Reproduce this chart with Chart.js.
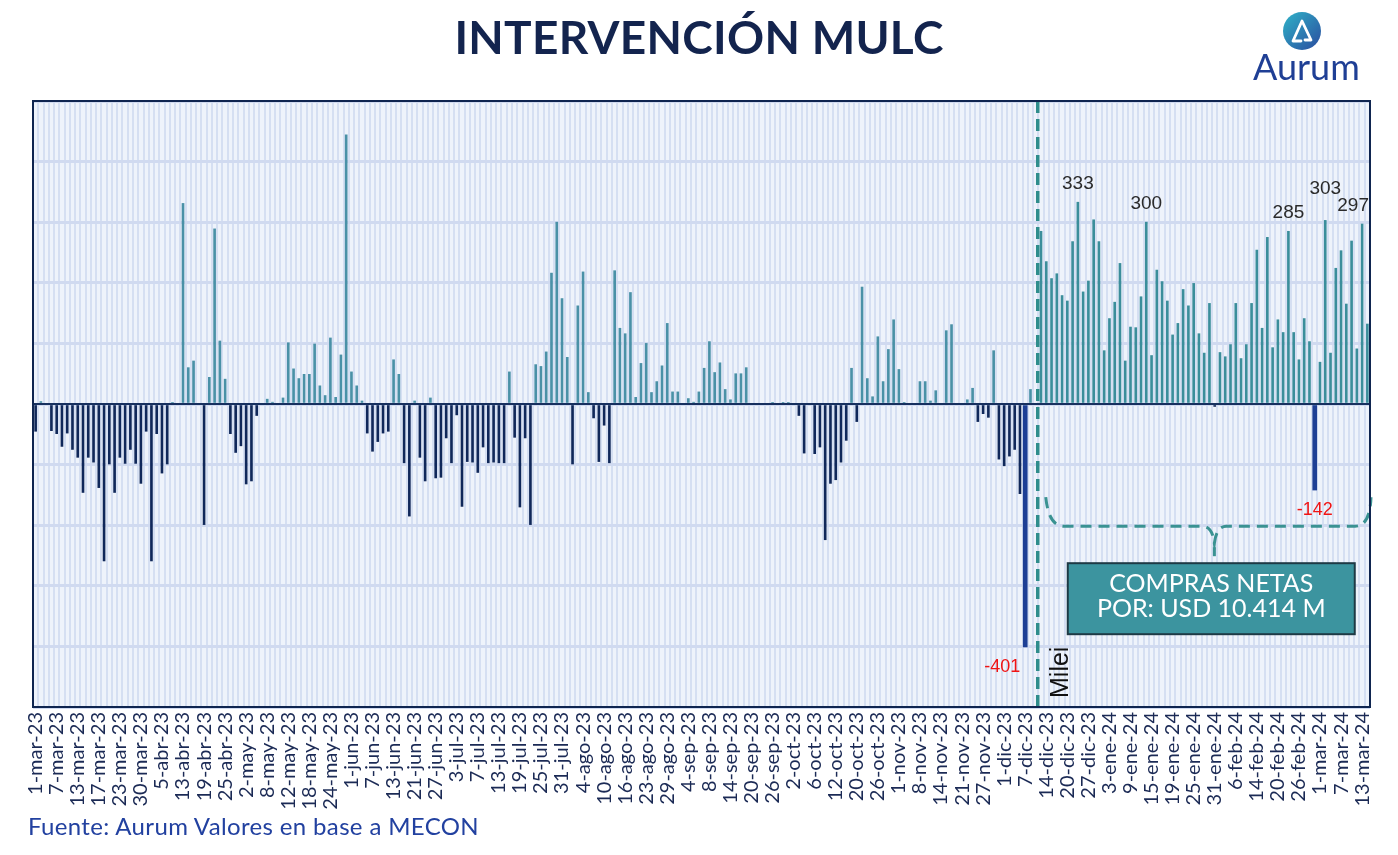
<!DOCTYPE html>
<html>
<head>
<meta charset="utf-8">
<script src="https://cdn.jsdelivr.net/npm/chart.js@4.4.1/dist/chart.umd.min.js"></script>
<style>
html,body{margin:0;padding:0;background:#ffffff;}
#wrap{position:relative;width:1398px;height:855px;overflow:hidden;background:#fff;}
#c{position:absolute;left:0;top:0;}
#title{position:absolute;left:0;top:14px;width:1398px;text-align:center;font-family:Lato,sans-serif;font-weight:700;font-size:46px;line-height:46px;color:#13244e;letter-spacing:0.3px;}
#source{position:absolute;left:28px;top:814px;font-family:Lato,sans-serif;font-size:24px;line-height:24px;color:#2241a0;letter-spacing:0.35px;}
#logoText{position:absolute;left:1253px;top:48px;font-family:Lato,sans-serif;font-size:36px;line-height:36px;color:#1f3f95;}
#logoIcon{position:absolute;left:1283px;top:12px;width:38px;height:38px;}
</style>
</head>
<body>
<div id="wrap">
  <canvas id="c" width="1398" height="855"></canvas>
  <div id="title">INTERVENCIÓN MULC</div>
  <svg id="logoIcon" viewBox="-19 -19 38 38">
    <defs>
      <linearGradient id="lg" x1="0" y1="0" x2="1" y2="1">
        <stop offset="0" stop-color="#2fb3c8"/>
        <stop offset="1" stop-color="#2b4c9f"/>
      </linearGradient>
    </defs>
    <circle cx="0" cy="0" r="19" fill="url(#lg)"/>
    <path d="M -1 10 L -9 10 L 0 -10 L 9 9 L 3 9" fill="none" stroke="#ffffff" stroke-width="2.8" stroke-linejoin="round" stroke-linecap="round"/>
  </svg>
  <div id="logoText">Aurum</div>
  <div id="source">Fuente: Aurum Valores en base a MECON</div>
</div>
<script>
// ---------- DATA ----------
const categories = [
  '1-mar-23','2-mar-23','3-mar-23','6-mar-23','7-mar-23','8-mar-23','9-mar-23','10-mar-23','13-mar-23','14-mar-23','15-mar-23','16-mar-23','17-mar-23','20-mar-23','21-mar-23','22-mar-23','23-mar-23','27-mar-23','28-mar-23','29-mar-23','30-mar-23','31-mar-23',
  '3-abr-23','4-abr-23','5-abr-23','10-abr-23','11-abr-23','12-abr-23','13-abr-23','14-abr-23','17-abr-23','18-abr-23','19-abr-23','20-abr-23','21-abr-23','24-abr-23','25-abr-23','26-abr-23','27-abr-23','28-abr-23',
  '2-may-23','3-may-23','4-may-23','5-may-23','8-may-23','9-may-23','10-may-23','11-may-23','12-may-23','15-may-23','16-may-23','17-may-23','18-may-23','19-may-23','22-may-23','23-may-23','24-may-23','29-may-23','30-may-23','31-may-23',
  '1-jun-23','2-jun-23','5-jun-23','6-jun-23','7-jun-23','8-jun-23','9-jun-23','12-jun-23','13-jun-23','14-jun-23','15-jun-23','16-jun-23','21-jun-23','22-jun-23','23-jun-23','26-jun-23','27-jun-23','28-jun-23','29-jun-23','30-jun-23',
  '3-jul-23','4-jul-23','5-jul-23','6-jul-23','7-jul-23','10-jul-23','11-jul-23','12-jul-23','13-jul-23','14-jul-23','17-jul-23','18-jul-23','19-jul-23','20-jul-23','21-jul-23','24-jul-23','25-jul-23','26-jul-23','27-jul-23','28-jul-23','31-jul-23',
  '1-ago-23','2-ago-23','3-ago-23','4-ago-23','7-ago-23','8-ago-23','9-ago-23','10-ago-23','11-ago-23','14-ago-23','15-ago-23','16-ago-23','17-ago-23','18-ago-23','22-ago-23','23-ago-23','24-ago-23','25-ago-23','28-ago-23','29-ago-23','30-ago-23','31-ago-23',
  '1-sep-23','4-sep-23','5-sep-23','6-sep-23','7-sep-23','8-sep-23','11-sep-23','12-sep-23','13-sep-23','14-sep-23','15-sep-23','18-sep-23','19-sep-23','20-sep-23','21-sep-23','22-sep-23','25-sep-23','26-sep-23','27-sep-23','28-sep-23','29-sep-23',
  '2-oct-23','3-oct-23','4-oct-23','5-oct-23','6-oct-23','9-oct-23','10-oct-23','11-oct-23','12-oct-23','17-oct-23','18-oct-23','19-oct-23','20-oct-23','23-oct-23','24-oct-23','25-oct-23','26-oct-23','27-oct-23','30-oct-23','31-oct-23',
  '1-nov-23','3-nov-23','6-nov-23','7-nov-23','8-nov-23','9-nov-23','10-nov-23','13-nov-23','14-nov-23','15-nov-23','16-nov-23','17-nov-23','21-nov-23','22-nov-23','23-nov-23','24-nov-23','27-nov-23','28-nov-23','29-nov-23','30-nov-23',
  '1-dic-23','4-dic-23','5-dic-23','6-dic-23','7-dic-23','11-dic-23','12-dic-23','13-dic-23','14-dic-23','15-dic-23','18-dic-23','19-dic-23','20-dic-23','21-dic-23','22-dic-23','26-dic-23','27-dic-23','28-dic-23','29-dic-23',
  '2-ene-24','3-ene-24','4-ene-24','5-ene-24','8-ene-24','9-ene-24','10-ene-24','11-ene-24','12-ene-24','15-ene-24','16-ene-24','17-ene-24','18-ene-24','19-ene-24','22-ene-24','23-ene-24','24-ene-24','25-ene-24','26-ene-24','29-ene-24','30-ene-24','31-ene-24',
  '1-feb-24','2-feb-24','5-feb-24','6-feb-24','7-feb-24','8-feb-24','9-feb-24','14-feb-24','15-feb-24','16-feb-24','19-feb-24','20-feb-24','21-feb-24','22-feb-24','23-feb-24','26-feb-24','27-feb-24','28-feb-24','29-feb-24',
  '1-mar-24','4-mar-24','5-mar-24','6-mar-24','7-mar-24','8-mar-24','11-mar-24','12-mar-24','13-mar-24','14-mar-24'
];

// Net BCRA purchases in the MULC, USD millions
const netPurchases = [
  -45,4,0,-44,-49,-70,-48,-75,-88,-146,-88,-96,-138,-259,-99,-146,-88,-98,-75,-98,-131,-45,
  -259,-49,-114,-99,2,0,331,60,71,0,-199,44,289,104,41,-49,-80,-69,
  -132,-127,-19,0,8,3,0,10,101,58,42,49,49,99,30,14,109,11,81,444,
  53,30,5,-48,-78,-62,-48,-45,73,49,-97,-185,5,-88,-127,10,-122,-121,-56,-97,
  -18,-169,-95,-96,-113,-71,-97,-96,-97,-97,53,-55,-170,-56,-199,65,62,86,216,300,174,
  77,-99,162,218,19,-23,-95,-35,-97,220,125,116,184,11,67,100,19,37,63,133,20,20,
  0,9,3,20,59,103,52,68,24,7,50,50,60,0,0,0,0,2,0,2,2,
  0,-19,-81,0,-82,-71,-224,-131,-125,-96,-60,59,-29,193,42,12,111,37,90,139,
  57,2,0,0,37,37,5,22,0,121,131,0,0,7,26,-29,-16,-22,88,-91,
  -102,-86,-75,-148,-401,24,0,285,235,207,215,179,170,268,333,185,203,304,268,
  88,141,168,232,71,127,126,177,300,80,221,202,170,114,133,189,162,199,116,84,166,-4,
  85,78,98,166,75,98,166,254,125,275,93,139,118,285,118,73,141,103,-142,
  69,303,84,224,253,165,269,91,297,132
];

const tickEvery = 4;
const mileiDate = '12-dic-23';
const labeledPositiveDates = ['22-dic-23','12-ene-24','22-feb-24','4-mar-24','13-mar-24'];
const labeledNegativeDates = ['7-dic-23','29-feb-24'];
const yMin = -500, yMax = 500, yStep = 100;
const bracketLevel = -200;
const boxLines = ['COMPRAS NETAS', 'POR: USD 10.414 M'];
const mileiLabel = 'Milei';

// ---------- STYLE ----------
const mileiIdx = categories.indexOf(mileiDate);
const highlightIdx = labeledNegativeDates.map(d => categories.indexOf(d));
const labelNudge = { '4-mar-24': {dx:0, dy:-13}, '13-mar-24': {dx:-9, dy:0}, '7-dic-23': {dx:-23, dy:0} };

const mainData = netPurchases.map((v,i) => highlightIdx.includes(i) ? null : v);
const highlightData = netPurchases.map((v,i) => highlightIdx.includes(i) ? v : null);

const annot = {
  id: 'annot',
  beforeDraw(chart) {
    const {ctx, chartArea: a} = chart;
    ctx.save();
    ctx.fillStyle = '#eef3fb';
    ctx.fillRect(a.left, a.top, a.right - a.left, a.bottom - a.top);
    ctx.restore();
  },
  afterDatasetsDraw(chart) {
    const {ctx, chartArea: a, scales: {x, y}} = chart;
    ctx.save();
    // zero line
    const y0 = y.getPixelForValue(0);
    ctx.strokeStyle = '#17305f';
    ctx.lineWidth = 2;
    ctx.beginPath(); ctx.moveTo(a.left, y0); ctx.lineTo(a.right, y0); ctx.stroke();

    // Milei line
    const xm = x.getPixelForValue(mileiIdx) + 2;
    ctx.strokeStyle = '#2f8d8c';
    ctx.lineWidth = 3.5;
    ctx.setLineDash([12, 6]);
    ctx.beginPath(); ctx.moveTo(xm, a.top); ctx.lineTo(xm, a.bottom); ctx.stroke();

    // bracket
    const yb = y.getPixelForValue(bracketLevel) + 1;
    const xl = xm + 8, xr = a.right + 1;
    const xc = (xl + xr) / 2 + 6;
    const ytop = yb - 29;
    ctx.lineWidth = 3;
    ctx.setLineDash([11, 7]);
    ctx.strokeStyle = '#3a9292';
    ctx.beginPath();
    ctx.moveTo(xl, ytop);
    ctx.quadraticCurveTo(xl + 3, yb, xl + 18, yb);
    ctx.lineTo(xc - 12, yb);
    ctx.quadraticCurveTo(xc - 2, yb, xc, yb + 17);
    ctx.quadraticCurveTo(xc + 2, yb, xc + 12, yb);
    ctx.lineTo(xr - 16, yb);
    ctx.quadraticCurveTo(xr - 1, yb, xr, ytop);
    ctx.stroke();
    ctx.setLineDash([]);
    ctx.beginPath(); ctx.moveTo(xc, yb + 21); ctx.lineTo(xc, yb + 30); ctx.stroke();

    // box
    const bx = xm + 30, by = yb + 37, bw = 287, bh = 71;
    ctx.fillStyle = '#3c949f';
    ctx.fillRect(bx, by, bw, bh);
    ctx.strokeStyle = '#1e3a45';
    ctx.lineWidth = 2;
    ctx.strokeRect(bx, by, bw, bh);
    ctx.fillStyle = '#ffffff';
    ctx.font = '25px Lato';
    ctx.textAlign = 'center';
    ctx.textBaseline = 'alphabetic';
    ctx.fillText(boxLines[0], bx + bw/2, by + 29);
    ctx.fillText(boxLines[1], bx + bw/2, by + 54);

    // Milei label
    ctx.save();
    ctx.translate(xm + 30, a.bottom - 9);
    ctx.rotate(-Math.PI/2);
    ctx.fillStyle = '#111111';
    ctx.font = '25px "Liberation Sans"';
    ctx.textAlign = 'left';
    ctx.fillText(mileiLabel, 0, 0);
    ctx.restore();

    // value labels
    ctx.font = '19px "Liberation Sans"';
    labeledPositiveDates.forEach(d => {
      const i = categories.indexOf(d);
      const v = netPurchases[i];
      const n = labelNudge[d] || {dx:0, dy:0};
      ctx.fillStyle = '#2b2b2b';
      ctx.textAlign = 'center';
      ctx.textBaseline = 'alphabetic';
      ctx.fillText(String(v), x.getPixelForValue(i) + n.dx, y.getPixelForValue(v) - 13 + n.dy);
    });
    ctx.font = '18px "Liberation Sans"';
    labeledNegativeDates.forEach(d => {
      const i = categories.indexOf(d);
      const v = netPurchases[i];
      const n = labelNudge[d] || {dx:0, dy:0};
      ctx.fillStyle = '#f01414';
      ctx.textAlign = 'center';
      ctx.textBaseline = 'top';
      ctx.fillText(String(v), x.getPixelForValue(i) + n.dx, y.getPixelForValue(v) + 11 + n.dy);
    });

    // frame
    ctx.strokeStyle = '#0f2550';
    ctx.lineWidth = 2;
    ctx.strokeRect(a.left, a.top, a.right - a.left, a.bottom - a.top);
    ctx.restore();
  }
};

new Chart(document.getElementById('c'), {
  type: 'bar',
  data: {
    labels: categories,
    datasets: [
      {
        data: mainData, grouped: false, barThickness: 2,
        backgroundColor: c => {
          const v = c.raw;
          if (v < 0) return '#10285a';
          return c.dataIndex < mileiIdx ? '#4a91a7' : '#3b8e9b';
        }
      },
      { data: highlightData, grouped: false, barThickness: 4, backgroundColor: '#1d3f95' }
    ]
  },
  options: {
    responsive: false,
    animation: false,
    devicePixelRatio: 1,
    layout: { padding: { left: 33, right: 28, top: 101, bottom: 0 } },
    plugins: { legend: { display: false }, tooltip: { enabled: false } },
    scales: {
      x: {
        grid: { color: '#d5dff2', lineWidth: 2, drawTicks: false, offset: true },
        border: { display: false },
        ticks: {
          autoSkip: false, maxRotation: 90, minRotation: 90, padding: 5,
          font: { family: 'Lato', size: 20 }, color: '#1b2a55',
          callback: (v, i) => (i % tickEvery === 0 ? categories[i] : '')
        },
        afterFit: s => { s.height = 148; }
      },
      y: {
        min: yMin, max: yMax,
        ticks: { display: false, stepSize: yStep },
        grid: { color: '#d0daf0', lineWidth: 3, drawTicks: false },
        border: { display: false },
        afterFit: s => { s.width = 0; }
      }
    }
  },
  plugins: [annot]
});
</script>
</body>
</html>
